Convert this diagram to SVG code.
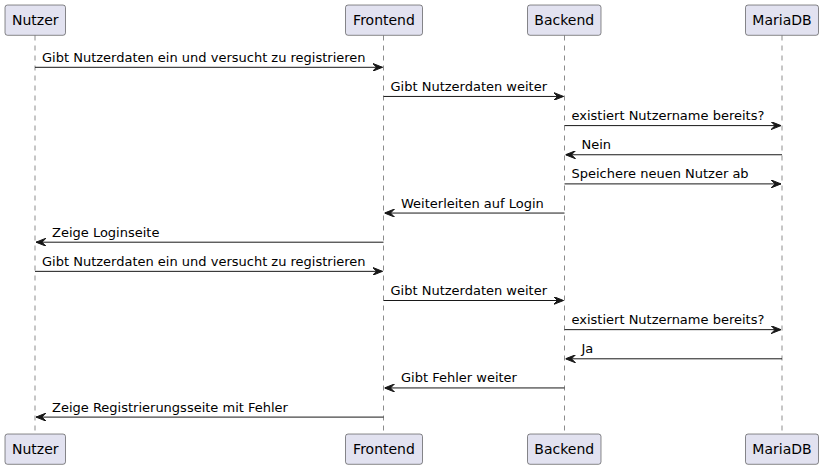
<svg xmlns="http://www.w3.org/2000/svg" width="823" height="469" viewBox="0 0 823 469">
<style>
.box{fill:#E2E2F0;stroke:#181818;stroke-width:0.5}
.pt{font-family:"DejaVu Sans",sans-serif;font-size:14px;fill:#000000;text-anchor:middle}
.life{stroke:#181818;stroke-width:0.5;stroke-dasharray:5,5;fill:none}
.msg{stroke:#181818;stroke-width:1;fill:none;marker-end:url(#ah)}
.mt{font-family:"DejaVu Sans",sans-serif;font-size:13px;fill:#000000}
</style>
<defs>
<marker id="ah" markerUnits="userSpaceOnUse" markerWidth="10" markerHeight="8" refX="10" refY="4" orient="auto">
<path d="M0,0 L10,4 L0,8 L4,4 Z" fill="#181818" stroke="#181818" stroke-width="1"/>
</marker>
</defs>
<rect width="823" height="469" fill="#FFFFFF"/>
<g id="lifelines">
<line class="life" x1="35" y1="35.5" x2="35" y2="434"/>
<line class="life" x1="383.5" y1="35.5" x2="383.5" y2="434"/>
<line class="life" x1="564.5" y1="35.5" x2="564.5" y2="434"/>
<line class="life" x1="782" y1="35.5" x2="782" y2="434"/>
</g>
<g id="Nutzer">
<rect class="box" x="5" y="5" width="60.5" height="30.3" rx="2.5"/>
<text class="pt" x="35.25" y="25">Nutzer</text>
<rect class="box" x="5" y="434" width="60.5" height="30.3" rx="2.5"/>
<text class="pt" x="35.25" y="454">Nutzer</text>
</g>
<g id="Frontend">
<rect class="box" x="345.5" y="5" width="77" height="30.3" rx="2.5"/>
<text class="pt" x="384" y="25">Frontend</text>
<rect class="box" x="345.5" y="434" width="77" height="30.3" rx="2.5"/>
<text class="pt" x="384" y="454">Frontend</text>
</g>
<g id="Backend">
<rect class="box" x="527.5" y="5" width="73.5" height="30.3" rx="2.5"/>
<text class="pt" x="564.25" y="25">Backend</text>
<rect class="box" x="527.5" y="434" width="73.5" height="30.3" rx="2.5"/>
<text class="pt" x="564.25" y="454">Backend</text>
</g>
<g id="MariaDB">
<rect class="box" x="745.5" y="5" width="73" height="30.3" rx="2.5"/>
<text class="pt" x="782" y="25">MariaDB</text>
<rect class="box" x="745.5" y="434" width="73" height="30.3" rx="2.5"/>
<text class="pt" x="782" y="454">MariaDB</text>
</g>
<g id="connectors">
<line class="msg" x1="35" y1="67.3" x2="382.5" y2="67.3"/>
<text class="mt" x="42" y="61.8">Gibt Nutzerdaten ein und versucht zu registrieren</text>
<line class="msg" x1="383.5" y1="96.45" x2="563.5" y2="96.45"/>
<text class="mt" x="390.5" y="90.95">Gibt Nutzerdaten weiter</text>
<line class="msg" x1="564.5" y1="125.6" x2="781" y2="125.6"/>
<text class="mt" x="571.5" y="120.1">existiert Nutzername bereits?</text>
<line class="msg" x1="782" y1="154.75" x2="565.5" y2="154.75"/>
<text class="mt" x="581.5" y="149.25">Nein</text>
<line class="msg" x1="564.5" y1="183.9" x2="781" y2="183.9"/>
<text class="mt" x="571.5" y="178.4">Speichere neuen Nutzer ab</text>
<line class="msg" x1="564.5" y1="213.05" x2="384.5" y2="213.05"/>
<text class="mt" x="401" y="207.55">Weiterleiten auf Login</text>
<line class="msg" x1="383.5" y1="242.2" x2="36" y2="242.2"/>
<text class="mt" x="52" y="236.7">Zeige Loginseite</text>
<line class="msg" x1="35" y1="271.35" x2="382.5" y2="271.35"/>
<text class="mt" x="42" y="265.85">Gibt Nutzerdaten ein und versucht zu registrieren</text>
<line class="msg" x1="383.5" y1="300.5" x2="563.5" y2="300.5"/>
<text class="mt" x="390.5" y="295">Gibt Nutzerdaten weiter</text>
<line class="msg" x1="564.5" y1="329.65" x2="781" y2="329.65"/>
<text class="mt" x="571.5" y="324.15">existiert Nutzername bereits?</text>
<line class="msg" x1="782" y1="358.8" x2="565.5" y2="358.8"/>
<text class="mt" x="581.5" y="353.3">Ja</text>
<line class="msg" x1="564.5" y1="387.95" x2="384.5" y2="387.95"/>
<text class="mt" x="401" y="382.45">Gibt Fehler weiter</text>
<line class="msg" x1="383.5" y1="417.1" x2="36" y2="417.1"/>
<text class="mt" x="52" y="411.6">Zeige Registrierungsseite mit Fehler</text>
</g>
</svg>
